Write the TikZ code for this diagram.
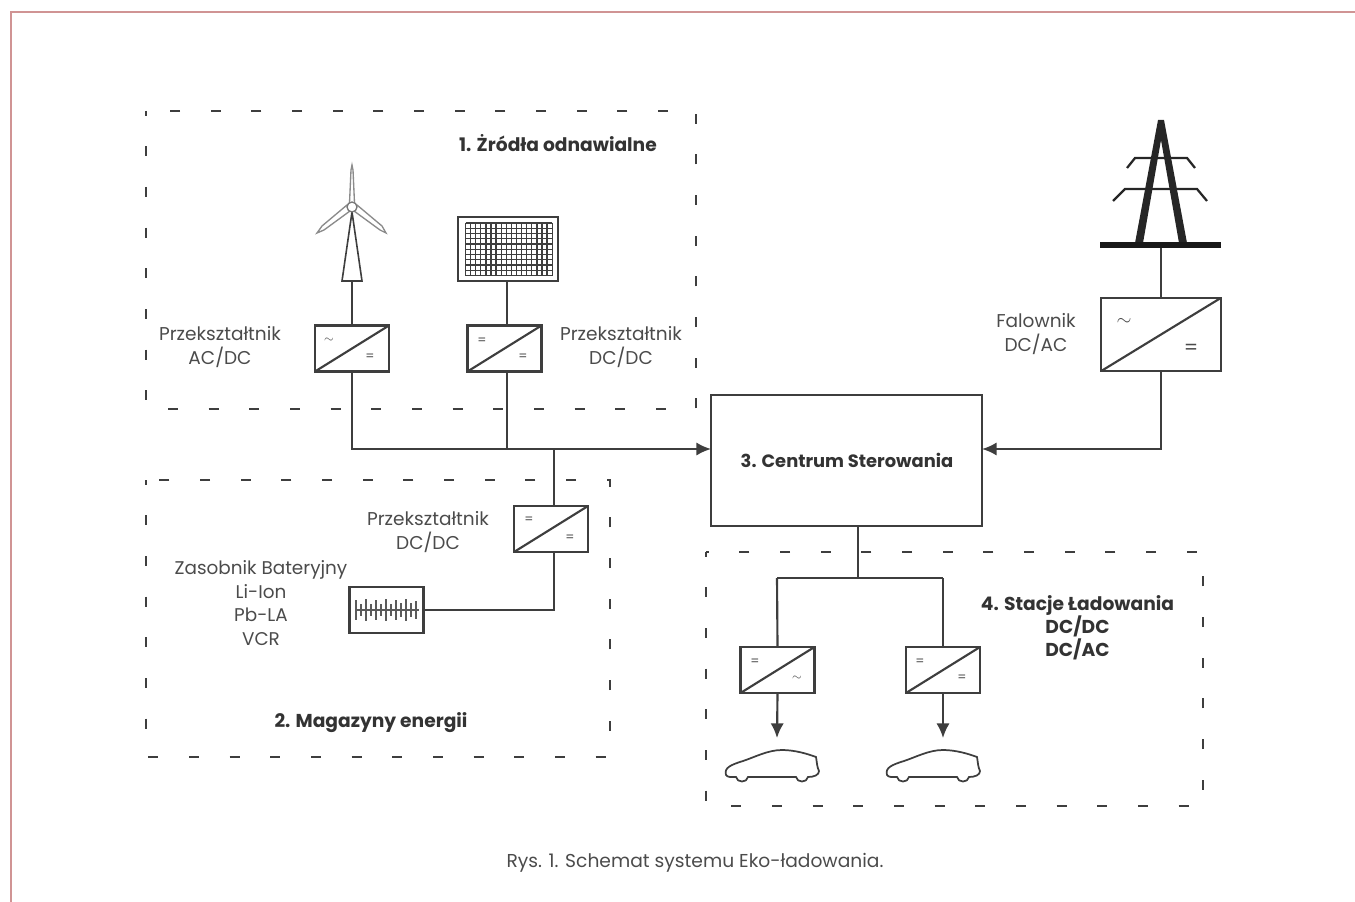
\documentclass[tikz,border=0pt]{standalone}
\usepackage{fontspec}
\setmainfont{Poppins}
\usetikzlibrary{arrows.meta}
\definecolor{wireline}{RGB}{62,62,62}
\definecolor{labelgray}{RGB}{75,75,75}
\definecolor{framered}{RGB}{208,148,148}
\tikzset{
  zone/.style={draw=wireline, line width=1.4pt, dash pattern=on 7.5pt off 23pt, dash phase=4pt},
  wire/.style={draw=wireline, line width=1.6pt},
  conv/.style={draw=wireline, line width=1.6pt, minimum width=55.5pt, minimum height=34.5pt, inner sep=0pt,
    path picture={\draw[wireline, line width=1.6pt] (path picture bounding box.south west) -- (path picture bounding box.north east);}},
  sym/.style={font=\fontsize{9.5}{9.5}\selectfont, text=labelgray, inner sep=0pt},
  lbl/.style={font=\fontsize{13.9}{18}\selectfont, text=labelgray, align=center, inner sep=0pt},
  head/.style={font=\fontsize{14}{17.4}\selectfont\bfseries, text=black!80, align=center, inner sep=0pt},
  tip/.style={-{Latex[length=11pt,width=10pt]}},
  carline/.style={draw=wireline, line width=1.3pt, fill=white},
}
\begin{document}
\begin{tikzpicture}[x=0.75pt, y=-0.75pt]
  \useasboundingbox (0,0) rectangle (1355,902);
  \draw[framered, line width=1.2pt] (11,902) -- (11,12) -- (1355,12);
  % zones
  \draw[zone] (146,111) rectangle (696,409);
  \draw[zone] (146,480) rectangle (610,757);
  \draw[zone] (706,552) rectangle (1203,806);
  % wind turbine
  \draw[wireline!60, line width=1pt, fill=white] (349.5,203) -- (351,170) -- (352,165) -- (353,170) -- (354.5,203) -- cycle;
  \draw[wireline!60, line width=1pt, fill=white] (347,205) -- (322,226) -- (317,233) -- (324,230) -- (350,211) -- cycle;
  \draw[wireline!60, line width=1pt, fill=white] (357,205) -- (382,226) -- (386,233) -- (380,230) -- (354,211) -- cycle;
  \draw[wire, line width=1.2pt, fill=white] (352,212) -- (342,281) -- (362,281) -- cycle;
  \draw[wireline!70, line width=1pt, fill=white] (352,207) circle (5);
  \coordinate (turbine) at (352,281);
  % solar panel
  \draw[wire, line width=1.4pt] (458,217) rectangle (558,281);
  \foreach \gx in {0,...,17} \draw[wireline, line width=1pt] ({465.5+\gx*5.1},223) -- ({465.5+\gx*5.1},275.5);
  \foreach \gy in {0,...,10} \draw[wireline, line width=1pt] (465.5,{223+\gy*5.25}) -- (552,{223+\gy*5.25});
  \coordinate (panel) at (507,281);
  % pylon
  \fill[black!85] (1158,120) -- (1164,120) -- (1187,243) -- (1179,243) -- (1161,140) -- (1143,243) -- (1135,243) -- cycle;
  \draw[black!85, line width=1.7pt] (1127,168) -- (1135,158) -- (1187,158) -- (1195,168);
  \draw[black!85, line width=1.7pt] (1113,201) -- (1125,189) -- (1197,189) -- (1207,201);
  \draw[black!90, line width=4.5pt] (1100,245) -- (1221,245);
  \coordinate (pylon) at (1161,248);
  % converters
  \node[conv] (convwind) at (352,348.5) {};
  \node[conv] (convsolar) at (504.5,348.5) {};
  \node[conv] (convbatt) at (551,529) {};
  \node[conv] (convcara) at (777.5,670) {};
  \node[conv] (convcarb) at (943,670) {};
  \node[conv, minimum width=90pt, minimum height=55pt] (convgrid) at (1161,334.5) {};
  \node[sym] (symwa) at (329,340) {$\sim$};
  \node[sym] (symwb) at (370,357) {=};
  \node[sym] (symsa) at (482,341) {=};
  \node[sym] (symsb) at (523,357) {=};
  \node[sym] (symba) at (529,520) {=};
  \node[sym] (symbb) at (570,538) {=};
  \node[sym] (symca) at (755,662) {=};
  \node[sym] (symcb) at (797,678) {$\sim$};
  \node[sym] (symda) at (920,662) {=};
  \node[sym] (symdb) at (962,678) {=};
  \node[sym, font=\fontsize{15}{15}\selectfont] (symga) at (1124,322) {$\sim$};
  \node[sym, font=\fontsize{15}{15}\selectfont] (symgb) at (1191,349) {=};
  % centre and battery
  \node[draw=wireline, line width=1.6pt, minimum width=203.25pt, minimum height=98.25pt, inner sep=0pt] (centre) at (846.5,460.5) {};
  \node[head, font=\fontsize{13.4}{17}\selectfont\bfseries] (centretxt) at (847,460) {3. Centrum Sterowania};
  \node[draw=wireline, line width=1.6pt, minimum width=55.5pt, minimum height=34.5pt, inner sep=0pt] (battery) at (386.5,610) {};
  \draw[wireline!85, line width=0.8pt] (355,610) -- (419,610);
  \foreach \bx/\bh in {356/10,361/6,366/11,371/6,376/10,381/6,386/11,391/6,396/10,401/7,406/11,411/7,416/9}
    \draw[wireline!85, line width=1.1pt] (\bx,610-\bh) -- (\bx,610+\bh);
  % connectors
  \coordinate (juncwind) at (352,449);
  \coordinate (juncsolar) at (507,449);
  \coordinate (juncbatt) at (554,449);
  \coordinate (juncbattlow) at (554,610);
  \coordinate (junccentre) at (858,578);
  \coordinate (junccara) at (777,578);
  \coordinate (junccarb) at (943,578);
  \coordinate (caratip) at (777,738);
  \coordinate (carbtip) at (943,738);
  \coordinate (centreleft) at (711,449);
  \coordinate (centreright) at (982,449);
  \coordinate (gridlow) at (1161,449);
  \draw[wire] (turbine) -- (convwind.north);
  \draw[wire] (panel) -- (507,325);
  \draw[wire] (pylon) -- (convgrid.north);
  \draw[wire, tip] (convwind.south) -- (juncwind) -- (centreleft);
  \draw[wire] (507,372) -- (juncsolar);
  \draw[wire] (juncbatt) -- (554,506);
  \draw[wire] (battery.east) -- (juncbattlow) -- (554,552);
  \draw[wire, tip] (convgrid.south) -- (gridlow) -- (centreright);
  \draw[wire] (858,526) -- (junccentre);
  \draw[wire] (junccara) -- (junccarb);
  \draw[wire] (junccara) -- (convcara.north);
  \draw[wire] (junccarb) -- (convcarb.north);
  \draw[wire, tip] (convcara.south) -- (caratip);
  \draw[wire, tip] (convcarb.south) -- (carbtip);
  % cars
  \foreach \carx in {700,861}
    \draw[carline, shift={(\carx,630)}] (26,145) .. controls (24,138) and (30,135) .. (43,131) .. controls (55,127) and (68,120) .. (82,120) .. controls (95,120) and (108,124) .. (116,127) .. controls (117,133) and (117,137) .. (119,141) .. controls (119,145) and (114,147) .. (108,147) .. controls (107,153) and (97,153) .. (96,147) -- (48,147) .. controls (47,153) and (37,153) .. (36,147) -- (30,147) .. controls (28,147) and (27,146) .. (26,145) -- cycle;
  % labels
  \node[head] (titlesrc) at (558,143.5) {1. Żródła odnawialne};
  \node[head] (titlestore) at (371,722.5) {2. Magazyny energii};
  \node[head] (titlecharge) at (1077.5,628) {4. Stacje Ładowania\\DC/DC\\DC/AC};
  \node[lbl] (txtwind) at (220,347.5) {Przekształtnik\\AC/DC};
  \node[lbl] (txtsolar) at (621,347.5) {Przekształtnik\\DC/DC};
  \node[lbl] (txtbatt) at (428,532.5) {Przekształtnik\\DC/DC};
  \node[lbl] (txtgrid) at (1036,334.5) {Falownik\\DC/AC};
  \node[lbl, font=\fontsize{13.8}{17.6}\selectfont] (txtstore) at (261,603) {Zasobnik Bateryjny\\Li-Ion\\Pb-LA\\VCR};
  \node[lbl, font=\fontsize{14}{15}\selectfont] (caption) at (695,863) {Rys. 1. Schemat systemu Eko-ładowania.};
\end{tikzpicture}
\end{document}
